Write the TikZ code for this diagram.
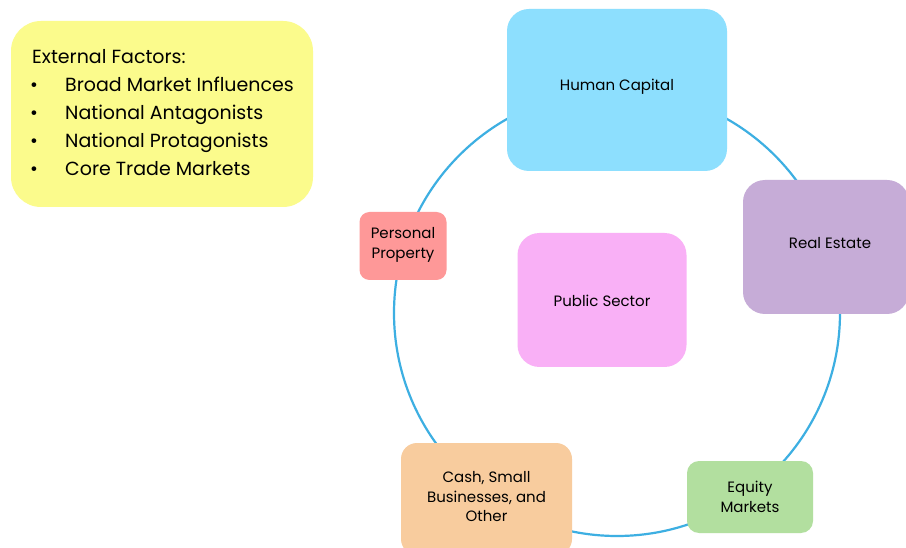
\documentclass[tikz,border=0pt]{standalone}
\usepackage{fontspec}
\setmainfont{Poppins}
\begin{document}
\begin{tikzpicture}[x=1pt,y=-1pt,
  box/.style={rounded corners=#1, inner sep=0pt, align=center, text=black},
  box/.default=14pt,
  lbl/.style={font=\fontsize{15}{20}\selectfont, align=center, inner sep=0pt, text=black},
  eftext/.style={anchor=base west, font=\fontsize{19}{28}\selectfont, inner sep=0pt, text=black},
  ring/.style={draw=ringblue, line width=2.2pt}]
\definecolor{ringblue}{HTML}{3DAFE2}
\definecolor{cyellow}{HTML}{FBFB8C}
\definecolor{cblue}{HTML}{8DDFFE}
\definecolor{cpurple}{HTML}{C6ACD7}
\definecolor{cpink}{HTML}{F9B0F6}
\definecolor{cred}{HTML}{FE9898}
\definecolor{corange}{HTML}{F8CC9E}
\definecolor{cgreen}{HTML}{B2DF9F}
\useasboundingbox (0,0) rectangle (906,548);
\fill[white] (0,0) rectangle (906,548);
% ring
\draw[ring] (617,313) circle (223);
% boxes
\node[box=22pt, fill=cblue, minimum width=220pt, minimum height=162pt] (hc) at (617,90) {};
\node[box=22pt, fill=cpurple, minimum width=166pt, minimum height=134pt] (re) at (826,247) {};
\node[box=22pt, fill=cpink, minimum width=169pt, minimum height=134pt] (ps) at (602,300) {};
\node[box=10pt, fill=cred, minimum width=87pt, minimum height=68pt] (pp) at (403,246) {};
\node[box=16pt, fill=corange, minimum width=171pt, minimum height=112pt] (cs) at (486.5,499) {};
\node[box=12pt, fill=cgreen, minimum width=126pt, minimum height=72pt] (eq) at (750,497) {};
% labels
\node[lbl] (hct) at (617,87) {Human Capital};
\node[lbl] (ret) at (830,243) {Real Estate};
\node[lbl] (pst) at (602,301) {Public Sector};
\node[lbl] (ppt) at (403,245) {Personal\\Property};
\node[lbl, font=\fontsize{15}{19.5}\selectfont] (cst) at (486.5,497) {Cash, Small\\Businesses, and\\Other};
\node[lbl] (eqt) at (750,497) {Equity\\Markets};
% external factors
\node[box=30pt, fill=cyellow, minimum width=302pt, minimum height=186pt] (ef) at (162,114) {};
\node[eftext] (eft) at (32,64) {External Factors:};
\foreach \t [count=\i] in {Broad Market Influences, National Antagonists, National Protagonists, Core Trade Markets}{
  \node[eftext] (b\i) at (30,{64+28*\i}) {\textbullet};
  \node[eftext] (t\i) at (65,{64+28*\i}) {\t};
}
\end{tikzpicture}
\end{document}
